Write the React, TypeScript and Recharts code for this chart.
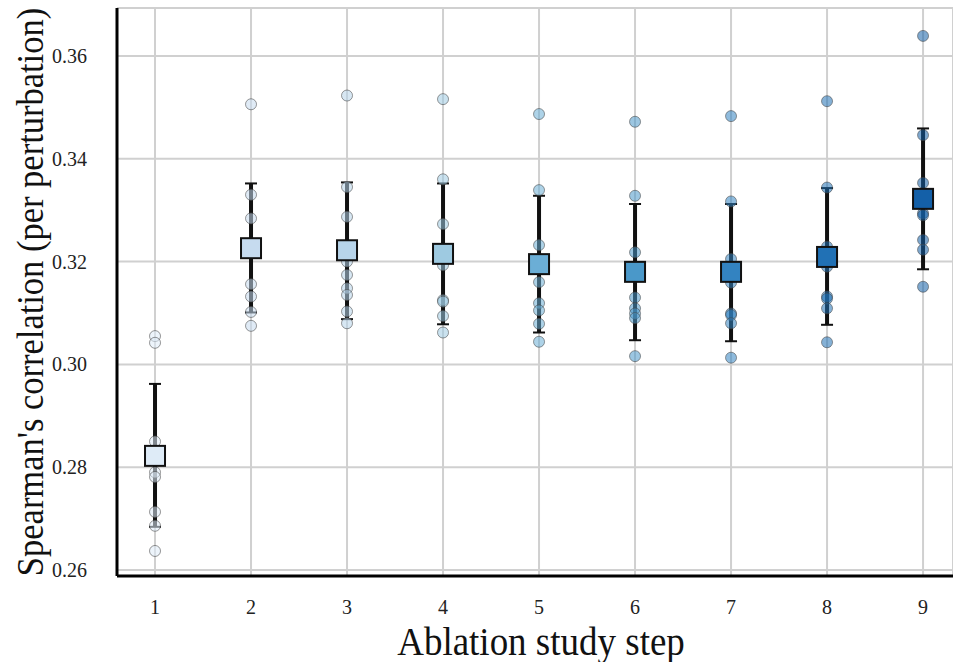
import {
  ScatterChart,
  Scatter,
  XAxis,
  YAxis,
  CartesianGrid,
  ErrorBar,
} from 'recharts';

const steps = [1, 2, 3, 4, 5, 6, 7, 8, 9];
const stepColors = ['#deebf7', '#c6dbef', '#b7d4ea', '#9ecae1', '#6baed6', '#4a98c9', '#3383c1', '#2171b5', '#1460a8'];

const meanValues = [0.2822, 0.3226, 0.3222, 0.3215, 0.3195, 0.318, 0.318, 0.3209, 0.3322];
const errorTop = [0.2962, 0.3352, 0.3354, 0.3352, 0.3328, 0.3312, 0.3312, 0.3343, 0.3459];
const errorBottom = [0.2684, 0.3101, 0.3088, 0.3078, 0.3062, 0.3047, 0.3045, 0.3077, 0.3185];

// per perturbation scores, one list per ablation step
const step1 = [0.3055, 0.3042, 0.285, 0.279, 0.2781, 0.2713, 0.2686, 0.2637];
const step2 = [0.3506, 0.333, 0.3284, 0.3156, 0.3132, 0.3102, 0.3075];
const step3 = [0.3523, 0.3345, 0.3287, 0.32, 0.3174, 0.3148, 0.3135, 0.3103, 0.308];
const step4 = [0.3516, 0.336, 0.3273, 0.3193, 0.3125, 0.3122, 0.3094, 0.3062];
const step5 = [0.3487, 0.3339, 0.3232, 0.316, 0.3119, 0.3105, 0.3079, 0.3044];
const step6 = [0.3472, 0.3328, 0.3218, 0.313, 0.3109, 0.3099, 0.309, 0.3016];
const step7 = [0.3483, 0.3317, 0.3205, 0.3159, 0.3099, 0.3096, 0.308, 0.3013];
const step8 = [0.3512, 0.3344, 0.3229, 0.319, 0.3132, 0.3128, 0.3109, 0.3043];
const step9 = [0.3639, 0.3446, 0.3353, 0.3294, 0.329, 0.3242, 0.3223, 0.3151];

const yTicks = [0.26, 0.28, 0.3, 0.32, 0.34, 0.36];

const perStep = [step1, step2, step3, step4, step5, step6, step7, step8, step9];

const pointData = perStep.flatMap((vals, i) =>
  vals.map((v) => ({ x: steps[i], y: v, color: stepColors[i] }))
);

const meanData = steps.map((s, i) => ({
  x: s,
  y: meanValues[i],
  err: [meanValues[i] - errorBottom[i], errorTop[i] - meanValues[i]],
  color: stepColors[i],
}));

const FONT = '"Liberation Serif", "DejaVu Serif", serif';

const Dot = (props: any) => {
  const { cx, cy, payload } = props;
  return (
    <circle
      cx={cx}
      cy={cy}
      r={5.5}
      fill={payload.color}
      fillOpacity={0.55}
      stroke="#444"
      strokeOpacity={0.55}
      strokeWidth={1}
    />
  );
};

const MeanSquare = (props: any) => {
  const { cx, cy, payload } = props;
  return (
    <rect
      x={cx - 10}
      y={cy - 10}
      width={20}
      height={20}
      fill={payload.color}
      stroke="#111"
      strokeWidth={2}
    />
  );
};

// text in the reference is slightly stretched vertically
const YLabel = (props: any) => {
  const { viewBox } = props;
  const x = viewBox.x + 30;
  const y = viewBox.y + viewBox.height / 2;
  return (
    <text
      transform={`translate(${x}, ${y}) rotate(-90) scale(1, 1.1)`}
      textAnchor="middle"
      dominantBaseline="central"
      fontFamily={FONT}
      fontSize={34.5}
      fill="#111"
    >
      Spearman's correlation (per perturbation)
    </text>
  );
};

const XLabel = (props: any) => {
  const { viewBox } = props;
  const x = viewBox.x + viewBox.width / 2 + 6;
  const y = 655;
  return (
    <text
      transform={`translate(${x}, ${y}) scale(1, 1.1)`}
      textAnchor="middle"
      fontFamily={FONT}
      fontSize={37}
      fill="#111"
    >
      Ablation study step
    </text>
  );
};

export default function App() {
  return (
    <div style={{ position: 'absolute', left: 0, top: 0, background: '#fff' }}>
      <ScatterChart width={953} height={662} margin={{ top: 8, right: 0, bottom: 0, left: 0 }}>
        <CartesianGrid stroke="#d0d0d0" strokeWidth={2} />
        <XAxis
          type="number"
          dataKey="x"
          domain={[0.604, 9.312]}
          ticks={steps}
          allowDataOverflow
          height={86}
          axisLine={{ stroke: '#000', strokeWidth: 3 }}
          tickLine={false}
          tickMargin={18}
          tick={{ fontFamily: FONT, fontSize: 20, fill: '#222' }}
          label={<XLabel />}
        />
        <YAxis
          type="number"
          dataKey="y"
          domain={[0.25883, 0.36933]}
          ticks={yTicks}
          allowDataOverflow
          width={117}
          axisLine={{ stroke: '#000', strokeWidth: 3 }}
          tickLine={false}
          tickMargin={24}
          tickFormatter={(v: number) => v.toFixed(2)}
          tick={{ fontFamily: FONT, fontSize: 20, fill: '#222' }}
          label={<YLabel />}
        />
        <Scatter data={pointData} shape={<Dot />} isAnimationActive={false} />
        <Scatter data={meanData} shape={<MeanSquare />} isAnimationActive={false}>
          <ErrorBar dataKey="err" direction="y" stroke="#111" strokeWidth={4} width={0} />
          <ErrorBar dataKey="err" direction="y" stroke="#111" strokeWidth={2} width={6} />
        </Scatter>
      </ScatterChart>
    </div>
  );
}
